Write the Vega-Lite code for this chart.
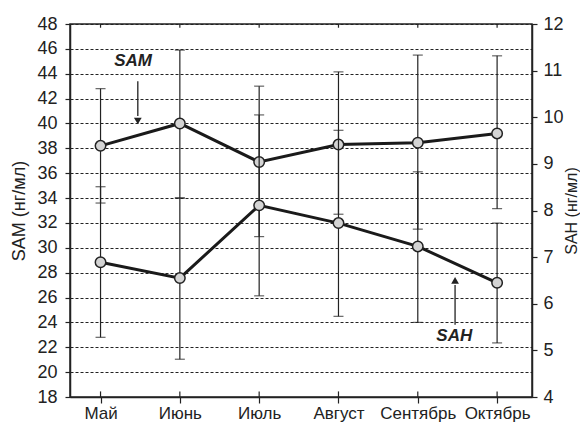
{
  "$schema": "https://vega.github.io/schema/vega-lite/v6.json",
  "width": 462,
  "height": 373,
  "autosize": {"type": "none"},
  "padding": {"left": 70, "top": 24, "right": 48, "bottom": 31},
  "background": "white",
  "config": {
    "font": "Liberation Sans",
    "view": {"stroke": "#222", "strokeWidth": 1.5},
    "axis": {
      "labelFont": "Liberation Sans",
      "titleFont": "Liberation Sans",
      "labelColor": "#222",
      "titleColor": "#222",
      "domainColor": "#222",
      "tickColor": "#222",
      "domainWidth": 1.5,
      "tickWidth": 1.2,
      "labelOverlap": false
    },
    "axisLeft": {
      "labelOverlap": false,
      "labelFontSize": 18,
      "titleFontSize": 18,
      "titleFontWeight": "normal",
      "titlePadding": 8,
      "labelPadding": 8,
      "tickSize": 5,
      "gridColor": "#222",
      "gridDash": [3, 2],
      "gridWidth": 1
    },
    "axisRight": {
      "labelOverlap": false,
      "labelFontSize": 18,
      "titleFontSize": 16,
      "titleFontWeight": "normal",
      "titlePadding": 0,
      "titleAngle": -90,
      "titleBaseline": "top",
      "labelPadding": 6,
      "tickSize": 5
    },
    "axisBottom": {
      "labelFontSize": 17,
      "labelPadding": 2,
      "tickSize": 6
    }
  },
  "datasets": {
    "sam": [
      {"i": 0, "v": 38.2, "lo": 33.6, "hi": 42.8},
      {"i": 1, "v": 40.0, "lo": 34.0, "hi": 45.9},
      {"i": 2, "v": 36.9, "lo": 30.9, "hi": 43.0},
      {"i": 3, "v": 38.3, "lo": 32.7, "hi": 44.15},
      {"i": 4, "v": 38.45, "lo": 31.5, "hi": 45.5},
      {"i": 5, "v": 39.2, "lo": 33.15, "hi": 45.44}
    ],
    "sah": [
      {"i": 0, "v": 6.89, "lo": 5.28, "hi": 8.51},
      {"i": 1, "v": 6.55, "lo": 4.81, "hi": 8.27},
      {"i": 2, "v": 8.11, "lo": 6.17, "hi": 10.05},
      {"i": 3, "v": 7.73, "lo": 5.73, "hi": 9.72},
      {"i": 4, "v": 7.23, "lo": 5.6, "hi": 8.83},
      {"i": 5, "v": 6.45, "lo": 5.16, "hi": 7.73}
    ],
    "samLabel": [{"i": 0.41, "y": 45.0, "t": "SAM"}],
    "samArrow": [{"i": 0.47, "y1": 43.4, "y2": 40.6, "tip": 40.2}],
    "sahLabel": [{"i": 4.46, "y": 5.3, "t": "SAH"}],
    "sahArrow": [{"i": 4.47, "y1": 5.55, "y2": 6.4, "tip": 6.5}]
  },
  "layer": [
    {
      "encoding": {
        "x": {
          "field": "i",
          "type": "quantitative",
          "scale": {"domain": [-0.385, 5.44], "nice": false, "zero": false},
          "axis": {
            "orient": "bottom",
            "values": [0, 1, 2, 3, 4, 5],
            "labelExpr": "['Май','Июнь','Июль','Август','Сентябрь','Октябрь'][datum.value]",
            "labelOverlap": false,
            "title": null,
            "grid": false,
            "tickSize": 6,
            "labelFontSize": 17,
            "labelPadding": 2
          }
        }
      },
      "layer": [
        {
          "data": {"name": "sam"},
          "mark": {"type": "rule", "color": "#222", "strokeWidth": 1.2},
          "encoding": {
            "y": {
              "field": "lo",
              "type": "quantitative",
              "scale": {"domain": [18, 48], "nice": false, "zero": false},
              "axis": {"orient": "left", "values": [18, 20, 22, 24, 26, 28, 30, 32, 34, 36, 38, 40, 42, 44, 46, 48], "labelOverlap": false, "title": "SAM (нг/мл)", "grid": true, "labelFontSize": 18, "titleFontSize": 18}
            },
            "y2": {"field": "hi"}
          }
        },
        {
          "data": {"name": "sam"},
          "mark": {"type": "rule", "color": "#222", "strokeWidth": 1.2},
          "encoding": {
            "y": {"datum": 48, "type": "quantitative", "axis": {"orient": "left", "values": [18, 20, 22, 24, 26, 28, 30, 32, 34, 36, 38, 40, 42, 44, 46, 48], "labelOverlap": false, "title": "SAM (нг/мл)", "grid": true, "labelFontSize": 18, "titleFontSize": 18}},
            "y2": {"datum": 47.7}
          }
        },
        {
          "data": {"name": "sam"},
          "mark": {"type": "rule", "color": "#222", "strokeWidth": 1.2},
          "encoding": {
            "y": {"datum": 18, "type": "quantitative", "axis": {"orient": "left", "values": [18, 20, 22, 24, 26, 28, 30, 32, 34, 36, 38, 40, 42, 44, 46, 48], "labelOverlap": false, "title": "SAM (нг/мл)", "grid": true, "labelFontSize": 18, "titleFontSize": 18}},
            "y2": {"datum": 18.45}
          }
        },
        {
          "data": {"name": "sam"},
          "mark": {"type": "tick", "orient": "horizontal", "color": "#222", "size": 10, "thickness": 1.2},
          "encoding": {"y": {"field": "lo", "type": "quantitative", "axis": {"orient": "left", "values": [18, 20, 22, 24, 26, 28, 30, 32, 34, 36, 38, 40, 42, 44, 46, 48], "labelOverlap": false, "title": "SAM (нг/мл)", "grid": true, "labelFontSize": 18, "titleFontSize": 18}}}
        },
        {
          "data": {"name": "sam"},
          "mark": {"type": "tick", "orient": "horizontal", "color": "#222", "size": 10, "thickness": 1.2},
          "encoding": {"y": {"field": "hi", "type": "quantitative", "axis": {"orient": "left", "values": [18, 20, 22, 24, 26, 28, 30, 32, 34, 36, 38, 40, 42, 44, 46, 48], "labelOverlap": false, "title": "SAM (нг/мл)", "grid": true, "labelFontSize": 18, "titleFontSize": 18}}}
        },
        {
          "data": {"name": "sam"},
          "mark": {"type": "line", "color": "#1a1a1a", "strokeWidth": 3},
          "encoding": {"y": {"field": "v", "type": "quantitative", "axis": {"orient": "left", "values": [18, 20, 22, 24, 26, 28, 30, 32, 34, 36, 38, 40, 42, 44, 46, 48], "labelOverlap": false, "title": "SAM (нг/мл)", "grid": true, "labelFontSize": 18, "titleFontSize": 18}}}
        },
        {
          "data": {"name": "sam"},
          "mark": {"type": "point", "filled": true, "fill": "#d4d4d4", "stroke": "#222", "strokeWidth": 1.5, "size": 110, "opacity": 1},
          "encoding": {"y": {"field": "v", "type": "quantitative", "axis": {"orient": "left", "values": [18, 20, 22, 24, 26, 28, 30, 32, 34, 36, 38, 40, 42, 44, 46, 48], "labelOverlap": false, "title": "SAM (нг/мл)", "grid": true, "labelFontSize": 18, "titleFontSize": 18}}}
        },
        {
          "data": {"name": "samLabel"},
          "mark": {"type": "text", "fontSize": 17, "fontWeight": "bold", "fontStyle": "italic", "color": "#222"},
          "encoding": {"y": {"field": "y", "type": "quantitative", "axis": {"orient": "left", "values": [18, 20, 22, 24, 26, 28, 30, 32, 34, 36, 38, 40, 42, 44, 46, 48], "labelOverlap": false, "title": "SAM (нг/мл)", "grid": true, "labelFontSize": 18, "titleFontSize": 18}}, "text": {"field": "t"}}
        },
        {
          "data": {"name": "samArrow"},
          "mark": {"type": "rule", "color": "#222", "strokeWidth": 1.3},
          "encoding": {"y": {"field": "y1", "type": "quantitative", "axis": {"orient": "left", "values": [18, 20, 22, 24, 26, 28, 30, 32, 34, 36, 38, 40, 42, 44, 46, 48], "labelOverlap": false, "title": "SAM (нг/мл)", "grid": true, "labelFontSize": 18, "titleFontSize": 18}}, "y2": {"field": "y2"}}
        },
        {
          "data": {"name": "samArrow"},
          "mark": {"type": "point", "shape": "triangle-down", "filled": true, "color": "#222", "size": 60, "opacity": 1},
          "encoding": {"y": {"field": "tip", "type": "quantitative", "axis": {"orient": "left", "values": [18, 20, 22, 24, 26, 28, 30, 32, 34, 36, 38, 40, 42, 44, 46, 48], "labelOverlap": false, "title": "SAM (нг/мл)", "grid": true, "labelFontSize": 18, "titleFontSize": 18}}}
        }
      ]
    },
    {
      "encoding": {
        "x": {"field": "i", "type": "quantitative"}
      },
      "layer": [
        {
          "data": {"name": "sah"},
          "mark": {"type": "rule", "color": "#222", "strokeWidth": 1.2},
          "encoding": {
            "y": {
              "field": "lo",
              "type": "quantitative",
              "scale": {"domain": [4, 12], "nice": false, "zero": false},
              "axis": {"orient": "right", "values": [4, 5, 6, 7, 8, 9, 10, 11, 12], "labelOverlap": false, "title": "SAH (нг/мл)", "grid": false, "labelFontSize": 18, "titleFontSize": 16, "titleAngle": -90, "titleBaseline": "top", "titlePadding": 0}
            },
            "y2": {"field": "hi"}
          }
        },
        {
          "data": {"name": "sah"},
          "mark": {"type": "tick", "orient": "horizontal", "color": "#222", "size": 10, "thickness": 1.2},
          "encoding": {"y": {"field": "lo", "type": "quantitative", "axis": {"orient": "right", "values": [4, 5, 6, 7, 8, 9, 10, 11, 12], "labelOverlap": false, "title": "SAH (нг/мл)", "grid": false, "labelFontSize": 18, "titleFontSize": 16, "titleAngle": -90, "titleBaseline": "top", "titlePadding": 0}}}
        },
        {
          "data": {"name": "sah"},
          "mark": {"type": "tick", "orient": "horizontal", "color": "#222", "size": 10, "thickness": 1.2},
          "encoding": {"y": {"field": "hi", "type": "quantitative", "axis": {"orient": "right", "values": [4, 5, 6, 7, 8, 9, 10, 11, 12], "labelOverlap": false, "title": "SAH (нг/мл)", "grid": false, "labelFontSize": 18, "titleFontSize": 16, "titleAngle": -90, "titleBaseline": "top", "titlePadding": 0}}}
        },
        {
          "data": {"name": "sah"},
          "mark": {"type": "line", "color": "#1a1a1a", "strokeWidth": 3},
          "encoding": {"y": {"field": "v", "type": "quantitative", "axis": {"orient": "right", "values": [4, 5, 6, 7, 8, 9, 10, 11, 12], "labelOverlap": false, "title": "SAH (нг/мл)", "grid": false, "labelFontSize": 18, "titleFontSize": 16, "titleAngle": -90, "titleBaseline": "top", "titlePadding": 0}}}
        },
        {
          "data": {"name": "sah"},
          "mark": {"type": "point", "filled": true, "fill": "#d4d4d4", "stroke": "#222", "strokeWidth": 1.5, "size": 110, "opacity": 1},
          "encoding": {"y": {"field": "v", "type": "quantitative", "axis": {"orient": "right", "values": [4, 5, 6, 7, 8, 9, 10, 11, 12], "labelOverlap": false, "title": "SAH (нг/мл)", "grid": false, "labelFontSize": 18, "titleFontSize": 16, "titleAngle": -90, "titleBaseline": "top", "titlePadding": 0}}}
        },
        {
          "data": {"name": "sahLabel"},
          "mark": {"type": "text", "fontSize": 17, "fontWeight": "bold", "fontStyle": "italic", "color": "#222"},
          "encoding": {"y": {"field": "y", "type": "quantitative", "axis": {"orient": "right", "values": [4, 5, 6, 7, 8, 9, 10, 11, 12], "labelOverlap": false, "title": "SAH (нг/мл)", "grid": false, "labelFontSize": 18, "titleFontSize": 16, "titleAngle": -90, "titleBaseline": "top", "titlePadding": 0}}, "text": {"field": "t"}}
        },
        {
          "data": {"name": "sahArrow"},
          "mark": {"type": "rule", "color": "#222", "strokeWidth": 1.3},
          "encoding": {"y": {"field": "y1", "type": "quantitative", "axis": {"orient": "right", "values": [4, 5, 6, 7, 8, 9, 10, 11, 12], "labelOverlap": false, "title": "SAH (нг/мл)", "grid": false, "labelFontSize": 18, "titleFontSize": 16, "titleAngle": -90, "titleBaseline": "top", "titlePadding": 0}}, "y2": {"field": "y2"}}
        },
        {
          "data": {"name": "sahArrow"},
          "mark": {"type": "point", "shape": "triangle-up", "filled": true, "color": "#222", "size": 60, "opacity": 1},
          "encoding": {"y": {"field": "tip", "type": "quantitative", "axis": {"orient": "right", "values": [4, 5, 6, 7, 8, 9, 10, 11, 12], "labelOverlap": false, "title": "SAH (нг/мл)", "grid": false, "labelFontSize": 18, "titleFontSize": 16, "titleAngle": -90, "titleBaseline": "top", "titlePadding": 0}}}
        }
      ]
    }
  ],
  "resolve": {"scale": {"y": "independent"}, "axis": {"y": "independent"}}
}
